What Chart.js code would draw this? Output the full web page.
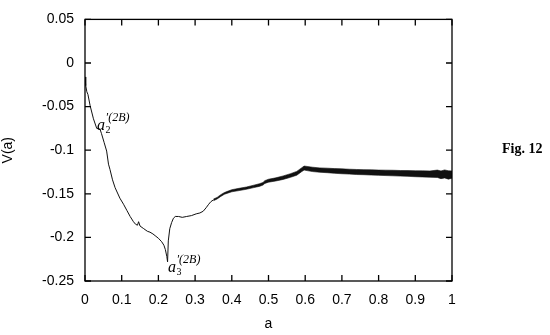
<!DOCTYPE html>
<html><head><meta charset="utf-8">
<script src="https://cdn.jsdelivr.net/npm/chart.js@4.4.0/dist/chart.umd.min.js"></script>
<style>html,body{margin:0;padding:0;background:#fff}#w{width:550px;height:335px;position:relative}</style>
</head><body><div id="w"><canvas id="c"></canvas></div>
<script>
// thin part of the curve
const aThin = [0, 0.002, 0.005, 0.008, 0.014, 0.023, 0.032, 0.041, 0.045, 0.052, 0.059, 0.064, 0.068, 0.075, 0.082, 0.095,
  0.105, 0.114, 0.123, 0.132, 0.138, 0.143, 0.146, 0.15, 0.16, 0.17, 0.177, 0.185, 0.191, 0.2, 0.209, 0.215, 0.219, 0.223,
  0.225, 0.227, 0.231, 0.236, 0.241, 0.246, 0.255, 0.265, 0.277, 0.29, 0.303, 0.313, 0.322, 0.33, 0.337, 0.343, 0.35];
const vThin = [-0.016, -0.026, -0.033, -0.036, -0.049, -0.064, -0.075, -0.076, -0.081, -0.091, -0.101, -0.116, -0.122, -0.134, -0.143, -0.155,
  -0.162, -0.169, -0.176, -0.182, -0.185, -0.186, -0.182, -0.187, -0.190, -0.193, -0.194, -0.196, -0.198, -0.201, -0.205, -0.209, -0.214, -0.222,
  -0.228, -0.204, -0.190, -0.183, -0.178, -0.176, -0.176, -0.177, -0.176, -0.175, -0.173, -0.172, -0.170, -0.166, -0.162, -0.159, -0.157];
// noisy thick part: upper and lower envelope
const aBand = [0.35, 0.36, 0.37, 0.38, 0.39, 0.40, 0.42, 0.44, 0.46, 0.475, 0.485, 0.49, 0.50, 0.52, 0.54, 0.56, 0.577, 0.59, 0.597, 0.605,
  0.62, 0.64, 0.66, 0.68, 0.70, 0.72, 0.74, 0.76, 0.78, 0.80, 0.82, 0.84, 0.86, 0.88, 0.90, 0.92, 0.94, 0.96, 0.97, 0.98, 0.99, 1.0];
const vBandUpper = [-0.1561, -0.1541, -0.1510, -0.1485, -0.1469, -0.1453, -0.1437, -0.1422, -0.1401, -0.1385, -0.1370, -0.1349, -0.1333, -0.1317, -0.1295, -0.1269, -0.1243, -0.1203, -0.1182, -0.1186,
  -0.1195, -0.1203, -0.1206, -0.1211, -0.1214, -0.1218, -0.1221, -0.1223, -0.1225, -0.1228, -0.1229, -0.1230, -0.1233, -0.1234, -0.1236, -0.1237, -0.1238, -0.1228, -0.1238, -0.1226, -0.1236, -0.1238];
const vBandLower = [-0.1579, -0.1559, -0.1530, -0.1505, -0.1491, -0.1477, -0.1463, -0.1448, -0.1429, -0.1415, -0.1400, -0.1381, -0.1367, -0.1353, -0.1335, -0.1311, -0.1287, -0.1247, -0.1228, -0.1234,
  -0.1245, -0.1253, -0.1258, -0.1265, -0.1270, -0.1274, -0.1279, -0.1281, -0.1285, -0.1288, -0.1291, -0.1294, -0.1297, -0.1300, -0.1304, -0.1307, -0.1310, -0.1313, -0.1326, -0.1318, -0.1332, -0.1322];
const xTicks = [0, 0.1, 0.2, 0.3, 0.4, 0.5, 0.6, 0.7, 0.8, 0.9, 1];
const xTickLabels = ['0', '0.1', '0.2', '0.3', '0.4', '0.5', '0.6', '0.7', '0.8', '0.9', '1'];
const yTicks = [-0.25, -0.2, -0.15, -0.1, -0.05, 0, 0.05];
const yTickLabels = ['-0.25', '-0.2', '-0.15', '-0.1', '-0.05', '0', '0.05'];
const xTitle = 'a';
const yTitle = 'V(a)';
const figLabel = 'Fig. 12';
const notes = [
  {a: 0.033, v: -0.0768, sub: '2', sup: '\u2032(2B)'},
  {a: 0.226, v: -0.2400, sub: '3', sup: '\u2032(2B)'}
];

Chart.defaults.font.family = "'Liberation Sans', Arial, sans-serif";
Chart.defaults.font.size = 14;
Chart.defaults.color = '#000';

const pts = (xs, ys) => xs.map((x, i) => ({x: x, y: ys[i]}));

const framePlugin = {
  id: 'frame',
  afterDraw(chart) {
    const {ctx, chartArea: ca, scales: {x, y}} = chart;
    ctx.save();
    ctx.strokeStyle = '#000';
    ctx.lineWidth = 1.3;
    ctx.strokeRect(ca.left, ca.top, ca.right - ca.left, ca.bottom - ca.top);
    const tl = 6;
    ctx.beginPath();
    xTicks.forEach(v => {
      const px = x.getPixelForValue(v);
      ctx.moveTo(px, ca.bottom); ctx.lineTo(px, ca.bottom - tl);
      ctx.moveTo(px, ca.top); ctx.lineTo(px, ca.top + tl);
    });
    yTicks.forEach(v => {
      const py = y.getPixelForValue(v);
      ctx.moveTo(ca.left, py); ctx.lineTo(ca.left + tl, py);
      ctx.moveTo(ca.right, py); ctx.lineTo(ca.right - tl, py);
    });
    ctx.stroke();
    // annotations
    ctx.fillStyle = '#000';
    ctx.textBaseline = 'alphabetic';
    ctx.textAlign = 'left';
    notes.forEach(n => {
      const px = x.getPixelForValue(n.a), py = y.getPixelForValue(n.v);
      ctx.font = "italic 16px 'Liberation Serif', 'DejaVu Serif', serif";
      ctx.fillText('a', px, py);
      const w = ctx.measureText('a').width;
      ctx.font = "10px 'Liberation Serif', 'DejaVu Serif', serif";
      ctx.fillText(n.sub, px + w + 0.5, py + 3);
      ctx.font = "italic 12px 'Liberation Serif', 'DejaVu Serif', serif";
      ctx.fillText(n.sup, px + w + 0.5, py - 9);
    });
    // figure label
    ctx.font = "bold 14px 'Liberation Serif', 'DejaVu Serif', serif";
    ctx.textBaseline = 'middle';
    ctx.fillText(figLabel, ca.right + 50, (ca.top + ca.bottom) / 2 - 1);
    ctx.restore();
  }
};

new Chart(document.getElementById('c'), {
  type: 'line',
  data: {
    datasets: [
      {data: pts(aThin, vThin), borderColor: '#111', borderWidth: 1, fill: false, pointRadius: 0, tension: 0},
      {data: pts(aBand, vBandUpper), borderColor: '#111', borderWidth: 0.6, fill: false, pointRadius: 0, tension: 0},
      {data: pts(aBand, vBandLower), borderColor: '#111', borderWidth: 0.6, fill: '-1', backgroundColor: '#111', pointRadius: 0, tension: 0}
    ]
  },
  options: {
    responsive: true,
    maintainAspectRatio: false,
    animation: false,
    layout: {padding: {left: 0, right: 98, top: 10, bottom: 0}},
    plugins: {legend: {display: false}, tooltip: {enabled: false}},
    scales: {
      x: {
        type: 'linear', min: 0, max: 1,
        afterBuildTicks: s => { s.ticks = xTicks.map(v => ({value: v})); },
        afterFit: s => { s.height = 54; },
        grid: {display: false, drawTicks: false},
        border: {display: false},
        ticks: {padding: 11, maxRotation: 0, autoSkip: false, callback: (v, i) => xTickLabels[i]},
        title: {display: true, text: xTitle, padding: {top: 0, bottom: 2}, font: {size: 14}}
      },
      y: {
        type: 'linear', min: -0.25, max: 0.05,
        afterBuildTicks: s => { s.ticks = yTicks.map(v => ({value: v})); },
        afterFit: s => { s.width = 85; },
        grid: {display: false, drawTicks: false},
        border: {display: false},
        ticks: {padding: 11, autoSkip: false, callback: (v, i) => yTickLabels[i]},
        title: {display: true, text: yTitle, padding: {top: 0, bottom: 0}, font: {size: 14}}
      }
    }
  },
  plugins: [framePlugin]
});
</script>
</body></html>
